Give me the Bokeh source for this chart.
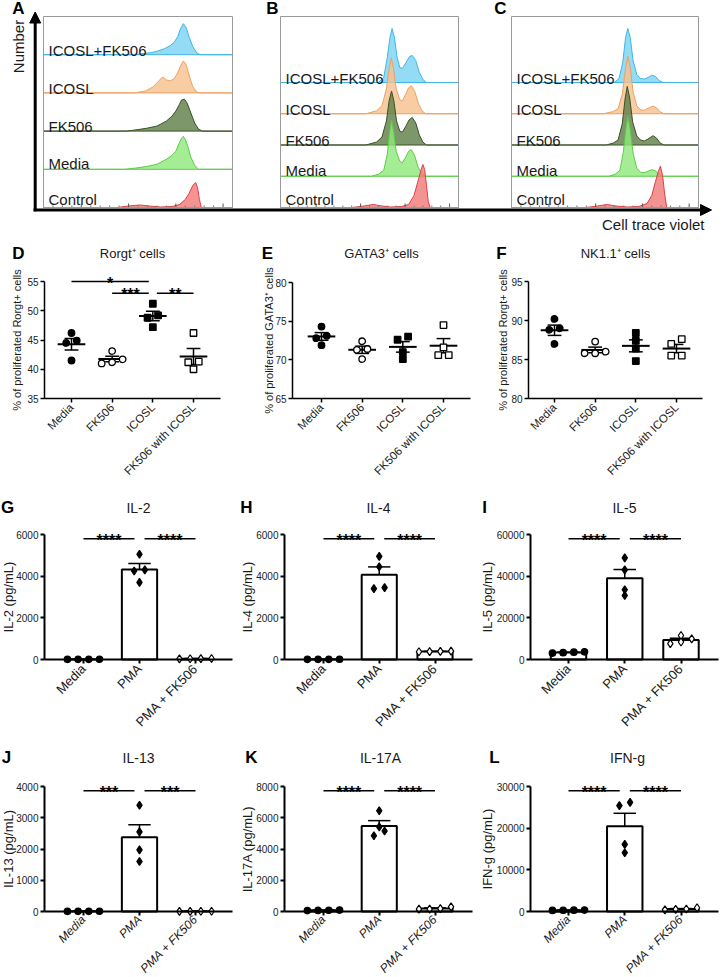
import math
import numpy as np
from bokeh.plotting import figure
from bokeh.layouts import column, row
from bokeh.models import Range1d, FixedTicker, Arrow, NormalHead
from bokeh.core.properties import value
from bokeh.embed import file_html
from bokeh.resources import INLINE

FONT = "Liberation Sans"

# ============================ DATA ============================
hist_rows = ["ICOSL+FK506", "ICOSL", "FK506", "Media", "Control"]

# Panel A: x = relative cell-trace-violet intensity (0-100), h = relative count
A_icfk_x = [0, 46, 52, 57, 61, 64, 67, 69, 71, 72.5, 74, 75.5, 77, 79, 81, 83, 100]
A_icfk_h = [0, 0, 1, 2, 4, 6, 9, 12, 18, 26, 31, 27, 18, 8, 2, 0, 0]
A_icosl_x = [0, 48, 54, 58, 61, 63, 65, 67, 69, 71, 72.5, 74, 75.5, 77, 79, 81, 83, 100]
A_icosl_h = [0, 0, 2, 6, 12, 16, 13, 12, 14, 20, 27, 32, 28, 18, 6, 1, 0, 0]
A_fk_x = [0, 44, 50, 55, 60, 62, 65, 68, 70, 72, 73, 74.5, 76, 78, 80, 82, 84, 100]
A_fk_h = [0, 0, 1.5, 3, 5, 7, 10, 15, 20, 27, 31, 32, 28, 18, 8, 2, 0, 0]
A_media_x = [0, 43, 50, 55, 60, 65, 68, 70, 72, 73, 74, 75, 76.5, 78, 80, 82, 100]
A_media_h = [0, 0, 1.5, 3, 5, 10, 14, 18, 27, 31, 33, 30, 22, 12, 4, 0, 0]
A_ctrl_x = [0, 39, 45, 51, 56, 62, 68, 72, 75, 77, 79, 80.5, 81.5, 82.5, 83.5, 100]
A_ctrl_h = [0, 0, 1.5, 2.5, 1.5, 0.5, 1, 3, 8, 14, 22, 25, 20, 8, 0, 0]

# Panel B
B_icfk_x = [0, 55, 58, 60, 61.5, 62.7, 64, 65.5, 67, 68.5, 70.5, 72.5, 74, 76, 78, 80, 82, 100]
B_icfk_h = [0, 0, 5, 25, 45, 54, 45, 25, 15, 14, 20, 26, 27, 22, 10, 3, 0, 0]
B_icosl_x = [0, 48, 54, 57, 59.5, 61, 62.2, 63.5, 65, 67, 68.5, 70.5, 72, 73.5, 75.5, 77.5, 79.5, 81.5, 100]
B_icosl_h = [0, 0, 3, 8, 25, 45, 56, 45, 25, 14, 13, 20, 26, 28, 22, 10, 3, 0, 0]
B_fk_x = [0, 48, 54, 57, 59.5, 61, 62.4, 63.7, 65.2, 67, 68.4, 70.5, 72.2, 74, 76, 78, 80, 82, 100]
B_fk_h = [0, 0, 3, 8, 24, 44, 54, 44, 24, 14, 12.7, 19, 25, 27.6, 22, 10, 3, 0, 0]
B_media_x = [0, 51, 55, 58, 60, 61.3, 62.4, 63.6, 65, 67, 68.4, 70.3, 72, 73.4, 75.3, 77.3, 79.5, 81.5, 100]
B_media_h = [0, 0, 2, 6, 22, 44, 56, 44, 25, 15, 13.3, 19, 25, 26.7, 21, 9, 2.5, 0, 0]
B_ctrl_x = [0, 40, 47, 52, 57, 62, 68, 72, 75, 77.5, 79, 80, 81, 82, 83, 84, 100]
B_ctrl_h = [0, 0, 1.5, 3, 1.5, 0.5, 1, 3, 12, 28, 38, 43, 38, 22, 6, 0, 0]

# Panel C
C_icfk_x = [0, 55, 57.5, 59.5, 61, 62.2, 63.5, 65, 67, 69, 71, 73, 75, 77, 79, 81, 100]
C_icfk_h = [0, 0, 4, 20, 45, 54, 45, 22, 8, 4, 3.5, 5, 7.3, 6, 2, 0, 0]
C_icosl_x = [0, 49, 54, 57, 59.3, 61, 62.2, 63.5, 65, 67, 69, 71, 73, 75.7, 77.5, 79.5, 81.5, 100]
C_icosl_h = [0, 0, 2, 5, 20, 46, 57.6, 46, 22, 8, 4, 3.5, 5.5, 7.6, 6, 2, 0, 0]
C_fk_x = [0, 50.7, 54.5, 57, 59.2, 60.8, 61.9, 63.2, 64.8, 67, 69, 71, 73, 75.7, 77.5, 79.5, 81.5, 100]
C_fk_h = [0, 0, 2, 5, 21, 47, 58.6, 47, 23, 9, 5, 4, 6, 9.3, 7, 2, 0, 0]
C_media_x = [0, 52, 55.5, 58, 59.8, 61.2, 62.2, 63.4, 65, 67, 69, 71, 73, 75.3, 77.3, 79.3, 81, 100]
C_media_h = [0, 0, 2, 6, 24, 48, 59.3, 48, 23, 8, 4, 3.5, 5, 6.7, 5, 1.5, 0, 0]
C_ctrl_x = [0, 40, 46, 51, 56, 62, 68, 72.5, 75, 77, 78.5, 79.6, 80.8, 82, 83, 100]
C_ctrl_h = [0, 0, 1.5, 3, 1.5, 0.5, 1, 4, 12, 26, 36, 41.3, 32, 12, 0, 0]

# Panels D-F: % of proliferated cells (4 mice per group)
dot_cats = ["Media", "FK506", "ICOSL", "FK506 with ICOSL"]
rorgt_media = [46.2, 44.9, 44.5, 41.5]
rorgt_fk506 = [43.1, 41.7, 41.2, 41.0]
rorgt_icosl = [51.2, 49.2, 48.8, 47.2]
rorgt_fk_icosl = [46.2, 41.3, 41.2, 40.0]
gata3_media = [74.3, 73.1, 72.8, 71.9]
gata3_fk506 = [72.4, 71.4, 71.3, 70.1]
gata3_icosl = [73.0, 72.6, 71.0, 70.1]
gata3_fk_icosl = [74.5, 71.6, 70.6, 70.6]
nk_media = [90.2, 89.0, 88.8, 87.0]
nk_fk506 = [87.3, 86.0, 85.8, 85.8]
nk_icosl = [88.4, 87.4, 86.4, 84.8]
nk_fk_icosl = [87.6, 87.0, 85.5, 85.5]
rorgt_sig = [(0, 2, "*", 55.0), (1, 2, "***", 53.0), (2, 3, "**", 53.0)]

# Panels G-L: cytokines (pg/mL)
bar_cats = ["Media", "PMA", "PMA + FK506"]
il2_media = [8, 12, 10, 9]
il2_pma = [5050, 4300, 4250, 3700]
il2_pma_fk = [30, 50, 40, 35]
il4_media = [10, 12, 8, 10]
il4_pma = [4950, 4450, 3450, 3400]
il4_pma_fk = [400, 390, 380, 370]
il5_media = [3100, 3700, 3500, 3300]
il5_pma = [48800, 43000, 33500, 30700]
il5_pma_fk = [11500, 7600, 9900, 8400]
il13_media = [8, 6, 7, 5]
il13_pma = [3400, 2550, 1970, 1600]
il13_pma_fk = [6, 8, 5, 7]
il17_media = [60, 80, 70, 90]
il17_pma = [6450, 5420, 5150, 4850]
il17_pma_fk = [150, 300, 180, 150]
ifng_media = [300, 250, 320, 350]
ifng_pma = [26200, 25400, 16100, 14100]
ifng_pma_fk = [400, 900, 600, 500]

# ============================ HELPERS ============================
def swarm(vals, ppu, step_units, thresh=5.0):
    order = sorted(range(len(vals)), key=lambda i: vals[i])
    rows = []
    for i in order:
        if rows and (vals[i] - vals[rows[-1][0]]) * ppu < thresh:
            rows[-1].append(i)
        else:
            rows.append([i])
    off = [0.0] * len(vals)
    for r in rows:
        n = len(r)
        for k, i in enumerate(r):
            off[i] = (k - (n - 1) / 2) * step_units
    return off


def txt(p, x, y, s, size, style="normal", angle=0.0, align="center", baseline="middle",
        color="#1a1a1a"):
    p.text(x=[x], y=[y], text=[s], angle=angle, text_align=align, text_baseline=baseline,
           text_font=value(FONT), text_font_size=size, text_font_style=style, text_color=color)


def panel(cx, ry, fx, cat_px, ay_top, ay_bot, ylim, yticks, lw, cats, cat_size, cat_style,
          cat_standoff=3):
    """Figure whose frame fills the canvas; axes pinned at the plot's own data edges."""
    n = len(cat_px)
    sp = (cat_px[-1] - cat_px[0]) / (n - 1)
    ppu = (ay_bot - ay_top) / (ylim[1] - ylim[0])
    X = lambda px: (px - cat_px[0]) / sp
    Y = lambda py: ylim[0] + (ay_bot - py) / ppu
    p = figure(width=cx[1] - cx[0], height=ry[1] - ry[0],
               x_range=Range1d(X(cx[0]), X(cx[1])), y_range=Range1d(Y(ry[1]), Y(ry[0])),
               min_border=0, title=None, toolbar_location=None, output_backend="svg",
               background_fill_color="white", border_fill_color="white")
    p.outline_line_color = None
    p.xgrid.visible = False
    p.ygrid.visible = False
    for ax in (p.xaxis[0], p.yaxis[0]):
        ax.axis_line_color = "black"
        ax.axis_line_width = lw
        ax.major_tick_line_color = "black"
        ax.major_tick_line_width = lw
        ax.major_tick_in = 0
        ax.major_tick_out = 4
        ax.minor_tick_line_color = None
    p.yaxis.fixed_location = X(fx[0])
    p.yaxis.bounds = ylim
    p.yaxis.ticker = FixedTicker(ticks=yticks)
    p.yaxis.major_label_text_font = FONT
    p.yaxis.major_label_text_font_size = "10px"
    p.yaxis.major_label_text_color = "#222222"
    p.yaxis.major_label_standoff = 2
    p.xaxis.fixed_location = ylim[0]
    p.xaxis.bounds = (X(fx[0]), X(fx[1]))
    p.xaxis.ticker = FixedTicker(ticks=list(range(n)))
    p.xaxis.major_label_overrides = {i: c for i, c in enumerate(cats)}
    p.xaxis.major_label_orientation = math.pi / 4
    p.xaxis.major_label_text_font = FONT
    p.xaxis.major_label_text_font_size = cat_size
    p.xaxis.major_label_text_font_style = cat_style
    p.xaxis.major_label_text_color = "#1a1a1a"
    p.xaxis.major_label_standoff = cat_standoff
    return p, X, Y, sp, ppu


def draw_sigs(p, sigs, shrink, ppu):
    ends = {j for (i, j, _, _) in sigs}
    starts = {i for (i, j, _, _) in sigs}
    for i, j, s, y in sigs:
        x0 = i + (shrink if i in ends else 0.0)
        x1 = j - (shrink if j in starts else 0.0)
        p.segment(x0=[x0], y0=[y], x1=[x1], y1=[y], line_color="black", line_width=1.5)
        txt(p, (x0 + x1) / 2, y - 1.5 / ppu, s, "16px", style="bold", baseline="alphabetic",
            color="black")


def dot_panel(cx, ry, fx, cat_px, ay_top, ay_bot, ylim, yticks, groups, title, title_xy,
              letter, letter_xy, ylab, ylab_x, sigs=None):
    p, X, Y, sp, ppu = panel(cx, ry, fx, cat_px, ay_top, ay_bot, ylim, yticks, 1.5,
                             dot_cats, "11.5px", "normal")
    for i, (vals, marker, filled) in enumerate(groups):
        m = float(np.mean(vals))
        s = float(np.std(vals, ddof=1) / np.sqrt(len(vals)))
        p.segment(x0=[i - 0.34], y0=[m], x1=[i + 0.34], y1=[m], line_color="black", line_width=2)
        p.segment(x0=[i, i - 0.17, i - 0.17], y0=[m - s, m - s, m + s],
                  x1=[i, i + 0.17, i + 0.17], y1=[m + s, m - s, m + s],
                  line_color="black", line_width=1.5)
        offs = swarm(vals, ppu, 10.5 / sp)
        p.scatter(x=[i + o for o in offs], y=vals, marker=marker, size=6.5,
                  fill_color="black" if filled else "white", line_color="black", line_width=1.3)
    if sigs:
        draw_sigs(p, sigs, 0.1, ppu)
    txt(p, X(title_xy[0]), Y(title_xy[1]), title, "13px")
    txt(p, X(letter_xy[0]), Y(letter_xy[1]), letter, "17px", style="bold", color="black")
    txt(p, X(ylab_x), Y((ay_top + ay_bot) / 2), ylab, "11px", angle=math.pi / 2)
    return p


def bar_panel(cx, ry, fx, cat_px, ay_top, ay_bot, ylim, yticks, groups, title, title_xy,
              letter, letter_xy, ylab, ylab_x, stars, italic):
    p, X, Y, sp, ppu = panel(cx, ry, fx, cat_px, ay_top, ay_bot, ylim, yticks, 2,
                             bar_cats, "12px" if italic else "13px",
                             "italic" if italic else "normal", 2 if italic else 3)
    means = [float(np.mean(g[0])) for g in groups]
    sems = [float(np.std(g[0], ddof=1) / np.sqrt(len(g[0]))) for g in groups]
    tops = [m + s for m, s in zip(means, sems)]
    idx = list(range(len(groups)))
    p.vbar(x=idx, top=means, bottom=ylim[0], width=0.63, fill_color="white",
           line_color="black", line_width=2)
    p.segment(x0=idx, y0=means, x1=idx, y1=tops, line_color="black", line_width=1.5)
    p.segment(x0=[i - 0.2 for i in idx], y0=tops, x1=[i + 0.2 for i in idx], y1=tops,
              line_color="black", line_width=1.5)
    for i, (vals, marker, filled, size) in enumerate(groups):
        offs = swarm(vals, ppu, 10.7 / sp)
        p.scatter(x=[i + o for o in offs], y=vals, marker=marker, size=size,
                  fill_color="black" if filled else "white", line_color="black", line_width=1.2)
    ysig = 0.967 * ylim[1]
    draw_sigs(p, [(0, 1, stars, ysig), (1, 2, stars, ysig)], 0.09, ppu)
    txt(p, X(title_xy[0]), Y(title_xy[1]), title, "14px")
    txt(p, X(letter_xy[0]), Y(letter_xy[1]), letter, "17px", style="bold", color="black")
    txt(p, X(ylab_x), Y((ay_top + ay_bot) / 2), ylab, "13px", angle=math.pi / 2)
    return p

# ============================ ROW 1: histograms ============================
R1X = (0, 723)
R1Y = (0, 236)
BASE = 207
BOX_TOP = 16
boxes = {"A": (43, 232, 38.2), "B": (280, 458, 31.25), "C": (511, 698, 31.25)}
hist = {
    "A": [(A_icfk_x, A_icfk_h), (A_icosl_x, A_icosl_h), (A_fk_x, A_fk_h), (A_media_x, A_media_h), (A_ctrl_x, A_ctrl_h)],
    "B": [(B_icfk_x, B_icfk_h), (B_icosl_x, B_icosl_h), (B_fk_x, B_fk_h), (B_media_x, B_media_h), (B_ctrl_x, B_ctrl_h)],
    "C": [(C_icfk_x, C_icfk_h), (C_icosl_x, C_icosl_h), (C_fk_x, C_fk_h), (C_media_x, C_media_h), (C_ctrl_x, C_ctrl_h)],
}
fills = ["#79d2f4", "#f7c08c", "#5e7d45", "#8ee87a", "#f27878"]
lines = ["#3fb6e6", "#eea060", "#3a5226", "#5ccc48", "#dd3e46"]
label_lift = [4, 4, 5, 6, 8]
ctv_minor = [5, 10, 15, 25, 30, 35, 40, 50, 55, 60, 65, 75, 80, 85, 90]
ctv_major = [20, 45, 70, 95]

p1 = figure(width=R1X[1] - R1X[0], height=R1Y[1] - R1Y[0],
            x_range=Range1d(R1X[0], R1X[1]), y_range=Range1d(BASE - R1Y[1], BASE - R1Y[0]),
            x_axis_type=None, y_axis_type=None, min_border=0, title=None,
            toolbar_location=None, output_backend="svg")
p1.outline_line_color = None
p1.extra_x_ranges = {k: Range1d((R1X[0] - l) * 100 / (r - l), (R1X[1] - l) * 100 / (r - l))
                     for k, (l, r, _) in boxes.items()}
for key, (l, r, step) in boxes.items():
    u = 100.0 / (r - l)
    for k in range(5):
        xs, hs = hist[key][k]
        off = (4 - k) * step
        p1.patch(xs, [off + h for h in hs], x_range_name=key, fill_color=fills[k],
                 fill_alpha=0.8, line_color=lines[k], line_width=1)
    p1.text(x=[5 * u] * 5, y=[(4 - k) * step + label_lift[k] for k in range(5)], text=hist_rows,
            x_range_name=key, text_font=value(FONT), text_font_size="15px",
            text_color="#1a1a1a", text_baseline="alphabetic")
    p1.segment(x0=ctv_minor, y0=[0] * len(ctv_minor), x1=ctv_minor, y1=[2] * len(ctv_minor),
               x_range_name=key, line_color="#777777", line_width=1)
    p1.segment(x0=ctv_major, y0=[0] * len(ctv_major), x1=ctv_major, y1=[4] * len(ctv_major),
               x_range_name=key, line_color="#555555", line_width=1)
    p1.quad(left=[0], right=[100], bottom=[0], top=[BASE - BOX_TOP], x_range_name=key,
            fill_color=None, line_color="#9a9a9a", line_width=1)

p1.add_layout(Arrow(end=NormalHead(size=11, fill_color="black", line_color="black"),
                    x_start=34.7, y_start=BASE - 210.8, x_end=34.7, y_end=BASE - 11.5,
                    line_width=3, line_color="black"))
p1.add_layout(Arrow(end=NormalHead(size=11, fill_color="black", line_color="black"),
                    x_start=33, y_start=BASE - 209.5, x_end=711, y_end=BASE - 209.5,
                    line_width=3, line_color="black"))
p1.text(x=[18, 272, 500], y=[BASE - 8] * 3, text=["A", "B", "C"], text_font=value(FONT),
        text_font_size="17px", text_font_style="bold", text_align="center",
        text_baseline="middle", text_color="black")
p1.text(x=[18], y=[BASE - 46], text=["Number"], angle=math.pi / 2, text_font=value(FONT),
        text_font_size="15px", text_align="center", text_baseline="middle", text_color="#1a1a1a")
p1.text(x=[704], y=[BASE - 224], text=["Cell trace violet"], text_font=value(FONT),
        text_font_size="15px", text_align="right", text_baseline="middle", text_color="#1a1a1a")

# ============================ ROW 2: D-F ============================
R2 = (236, 490)
pD = dot_panel((0, 250), R2, (44, 220), [71, 111, 152, 193], 281, 398, (35, 55), [35, 40, 45, 50, 55],
               [(rorgt_media, "circle", True), (rorgt_fk506, "circle", False),
                (rorgt_icosl, "square", True), (rorgt_fk_icosl, "square", False)],
               "Rorgt\u207a cells", (132, 253), "D", (18, 253),
               "% of proliferated Rorgt+ cells", 16, rorgt_sig)
pE = dot_panel((250, 490), R2, (292, 470), [321, 361, 402, 443], 282, 398, (65, 80), [65, 70, 75, 80],
               [(gata3_media, "circle", True), (gata3_fk506, "circle", False),
                (gata3_icosl, "square", True), (gata3_fk_icosl, "square", False)],
               "GATA3\u207a cells", (381, 253), "E", (267, 253),
               "% of proliferated GATA3\u207a cells", 268)
pF = dot_panel((490, 723), R2, (528, 702), [554, 595, 635, 676], 281, 398, (80, 95), [80, 85, 90, 95],
               [(nk_media, "circle", True), (nk_fk506, "circle", False),
                (nk_icosl, "square", True), (nk_fk_icosl, "square", False)],
               "NK1.1\u207a cells", (615, 253), "F", (501, 253),
               "% of proliferated Rorgt+ cells", 502)

# ============================ ROWS 3-4: G-L ============================
COLS = [((0, 237), (44, 232), [83, 139, 195]),
        ((237, 478), (284, 472), [323, 378.5, 434.5]),
        ((478, 723), (530, 718), [568, 624.5, 680.5])]
R3, A3 = (490, 741), (534, 659)
R4, A4 = (741, 977), (786, 911)


def grp(media, pma, pmafk):
    return [(media, "circle", True, 6.5), (pma, "diamond", True, 8), (pmafk, "diamond", False, 8)]


def bp(col, rr, aa, *rest):
    cx, fx, cpx = COLS[col]
    return bar_panel(cx, rr, fx, cpx, aa[0], aa[1], *rest)


pG = bp(0, R3, A3, (0, 6000), [0, 2000, 4000, 6000], grp(il2_media, il2_pma, il2_pma_fk),
        "IL-2", (138, 507), "G", (7, 507), "IL-2 (pg/mL)", 8, "****", False)
pH = bp(1, R3, A3, (0, 6000), [0, 2000, 4000, 6000], grp(il4_media, il4_pma, il4_pma_fk),
        "IL-4", (378, 507), "H", (246, 507), "IL-4 (pg/mL)", 247, "****", False)
pI = bp(2, R3, A3, (0, 60000), [0, 20000, 40000, 60000], grp(il5_media, il5_pma, il5_pma_fk),
        "IL-5", (624, 507), "I", (484, 507), "IL-5 (pg/mL)", 487, "****", False)
pJ = bp(0, R4, A4, (0, 4000), [0, 1000, 2000, 3000, 4000], grp(il13_media, il13_pma, il13_pma_fk),
        "IL-13", (138, 757), "J", (6, 757), "IL-13 (pg/mL)", 8, "***", True)
pK = bp(1, R4, A4, (0, 8000), [0, 2000, 4000, 6000, 8000], grp(il17_media, il17_pma, il17_pma_fk),
        "IL-17A", (380, 757), "K", (251, 757), "IL-17A (pg/mL)", 247, "****", True)
pL = bp(2, R4, A4, (0, 30000), [0, 10000, 20000, 30000], grp(ifng_media, ifng_pma, ifng_pma_fk),
        "IFN-g", (627, 757), "L", (494, 757), "IFN-g (pg/mL)", 487, "****", True)

layout = column(p1, row(pD, pE, pF, spacing=0), row(pG, pH, pI, spacing=0),
                row(pJ, pK, pL, spacing=0), spacing=0)

with open("out.html", "w") as f:
    f.write(file_html(layout, INLINE))
